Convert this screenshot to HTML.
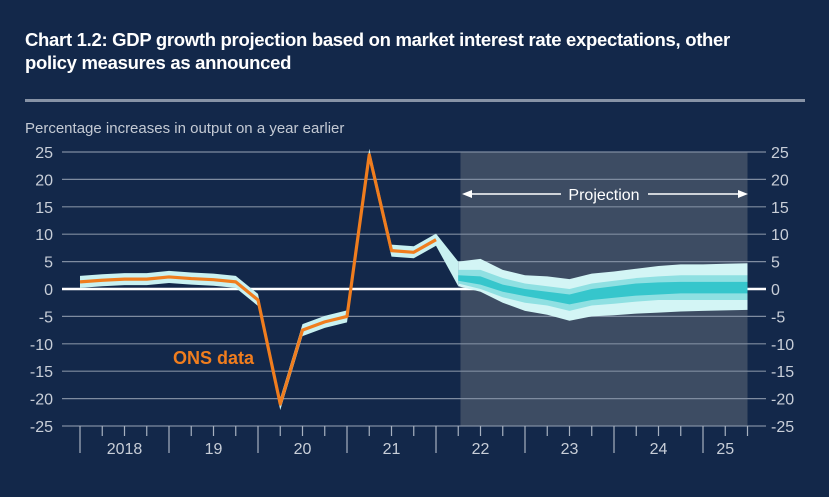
<!DOCTYPE html>
<html><head><meta charset="utf-8"><style>
html,body{margin:0;padding:0;background:#13284a;}
#wrap{position:relative;width:829px;height:497px;background:#13284a;overflow:hidden;font-family:"Liberation Sans",sans-serif;}
#title{position:absolute;left:25px;top:28px;width:740px;color:#fff;font-weight:bold;font-size:18.5px;line-height:23px;letter-spacing:-0.3px;}
#sep{position:absolute;left:25px;top:99px;width:780px;height:3px;background:#8793a6;}
#sub{position:absolute;left:25px;top:120px;color:#c4cad4;font-size:15px;}
svg{position:absolute;left:0;top:0;}
</style></head><body>
<div id="wrap">
<div id="title">Chart 1.2: GDP growth projection based on market interest rate expectations, other policy measures as announced</div>
<div id="sep"></div>
<div id="sub">Percentage increases in output on a year earlier</div>
<svg id="chart" width="829" height="497"></svg>
</div>
<script>
const yTicks=[25,20,15,10,5,0,-5,-10,-15,-20,-25];
const yearLabels=["2018","19","20","21","22","23","24","25"];
// ONS data, quarterly from 2018 Q1 (index 0) to 2022 Q1 (index 16)
const onsValues=[1.3,1.6,1.8,1.8,2.2,1.9,1.7,1.3,-2.0,-21,-7.5,-6,-5,24.5,7,6.7,9];
// projection fan, quarterly indices 17..30
const fanStart=17;
const outerHi=[5,5.5,3.5,2.5,2.3,1.8,2.8,3.2,3.7,4.2,4.5,4.5,4.6,4.7];
const midHi=[3.5,3.5,2,1,0.5,0,1,1.5,2,2.3,2.5,2.5,2.5,2.5];
const innerHi=[2.5,2.3,0.8,0,-0.5,-1,0,0.5,1,1.2,1.3,1.3,1.3,1.3];
const innerLo=[1.5,0.8,-0.5,-1.3,-2,-2.8,-2,-1.6,-1.2,-1,-0.8,-0.8,-0.8,-0.8];
const midLo=[1,0,-1.5,-2.5,-3,-4,-3,-2.7,-2.3,-2,-2,-2,-2,-2];
const outerLo=[0.5,-0.5,-2.5,-4,-4.7,-5.8,-5,-4.8,-4.5,-4.3,-4.1,-4,-3.9,-3.8];
const projStartIdx=17.1, projEndIdx=30;

const NS="http://www.w3.org/2000/svg";
const svg=document.getElementById('chart');
const X0=62,X1=766,Y25=152,Y_25=426;
const xq=i=>80+i*22.25;
const yv=v=>Y25+(25-v)*(Y_25-Y25)/50;
function mk(t,a){const e=document.createElementNS(NS,t);for(const k in a)e.setAttribute(k,a[k]);svg.appendChild(e);return e;}

let r=mk('rect',{x:xq(projStartIdx),y:Y25,width:xq(projEndIdx)-xq(projStartIdx),height:Y_25-Y25,fill:'#3d4c63'});



yTicks.forEach(v=>{
  const l=mk('line',{x1:X0,x2:X1,y1:yv(v),y2:yv(v),stroke:v===0?'#ffffff':'#7f8ca0','stroke-width':v===0?2.5:1.2});
  
  
  const t1=mk('text',{x:53,y:yv(v)+6,'text-anchor':'end',fill:'#c8ced8','font-size':16});
  t1.textContent=v;
  
  
  const t2=mk('text',{x:771,y:yv(v)+6,'text-anchor':'start',fill:'#c8ced8','font-size':16});
  t2.textContent=v;
  
  
});

for(let i=0;i<=30;i++){
  const major=i%4===0;
  const tk=mk('line',{x1:xq(i),x2:xq(i),y1:Y_25,y2:major?453:436,stroke:'#a7b1c0','stroke-width':1.2});
  
  
}
yearLabels.forEach((lab,k)=>{
  const endIdx=Math.min(k*4+4,30);
  const t=mk('text',{x:(xq(k*4)+xq(endIdx))/2,y:454,'text-anchor':'middle',fill:'#c8ced8','font-size':16});
  t.textContent=lab;
  
  
});

function band(hi,lo,start,fill,name){
  let pts=hi.map((v,i)=>xq(start+i)+','+yv(v));
  for(let i=lo.length-1;i>=0;i--)pts.push(xq(start+i)+','+yv(lo[i]));
  const p=mk('polygon',{points:pts.join(' '),fill:fill});
  
  
}
const hHi=onsValues.map(v=>v+1.1).concat([outerHi[0]]);
const hLo=onsValues.map(v=>v-1.1).concat([outerLo[0]]);
band(hHi,hLo,0,'#c9f1f1','history-band');
band(outerHi,outerLo,fanStart,'#d3f5f5','fan-outer-band');
band(midHi,midLo,fanStart,'#8fe0e2','fan-middle-band');
band(innerHi,innerLo,fanStart,'#36c6cc','fan-inner-band');

const ons=mk('polyline',{points:onsValues.map((v,i)=>xq(i)+','+yv(v)).join(' '),fill:'none',stroke:'#f07d1e','stroke-width':3.2,'stroke-linejoin':'round'});



const ol=mk('text',{x:173,y:364,fill:'#f07d1e','font-size':18,'font-weight':'bold'});
ol.textContent='ONS data';



const ay=194;
const a1=mk('line',{x1:470,x2:561,y1:ay,y2:ay,stroke:'#fff','stroke-width':1.5});


const a2=mk('line',{x1:648,x2:740,y1:ay,y2:ay,stroke:'#fff','stroke-width':1.5});


const h1=mk('polygon',{points:`462,${ay} 472,${ay-4} 472,${ay+4}`,fill:'#fff'});


const h2=mk('polygon',{points:`748,${ay} 738,${ay-4} 738,${ay+4}`,fill:'#fff'});


const pt=mk('text',{x:604,y:ay+6,'text-anchor':'middle',fill:'#fff','font-size':16});
pt.textContent='Projection';


</script>
</body></html>
